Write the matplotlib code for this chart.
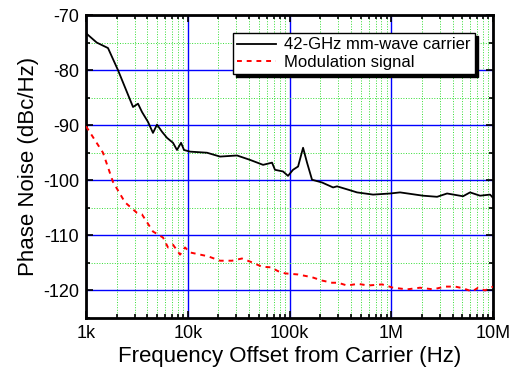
import matplotlib.pyplot as plt
import numpy as np
from matplotlib.ticker import FixedLocator, LogLocator, NullFormatter

plt.rcParams['font.family'] = ['Liberation Sans', 'DejaVu Sans']
plt.rcParams['axes.unicode_minus'] = False

# 42-GHz mm-wave carrier (log10 of offset in Hz, dBc/Hz)
carrier_logf = [3.0, 3.105, 3.216, 3.314, 3.462, 3.511, 3.550, 3.609, 3.658, 3.698,
                3.747, 3.796, 3.855, 3.894, 3.934, 3.963, 4.022, 4.189, 4.317, 4.484,
                4.612, 4.740, 4.828, 4.857, 4.936, 4.985, 5.034, 5.084, 5.133, 5.172,
                5.221, 5.319, 5.428, 5.467, 5.575, 5.663, 5.821, 5.988, 6.086, 6.312,
                6.450, 6.548, 6.705, 6.774, 6.872, 6.971, 7.0]
carrier_db = [-73.3, -75.0, -76.0, -80.0, -86.7, -86.1, -87.6, -89.4, -91.4, -89.9,
              -91.2, -92.3, -93.2, -94.5, -93.2, -94.5, -94.8, -95.0, -95.7, -95.5,
              -96.3, -97.2, -96.8, -98.1, -98.4, -99.2, -98.1, -97.5, -94.1, -96.8,
              -99.9, -100.4, -101.3, -101.1, -101.7, -102.2, -102.6, -102.4, -102.2, -102.8,
              -103.0, -102.4, -102.9, -102.2, -102.8, -102.6, -103.2]

# Modulation signal
mod_logf = [3.0, 3.167, 3.265, 3.383, 3.50, 3.55, 3.658, 3.757, 3.806, 3.855,
            3.924, 3.973, 4.022, 4.199, 4.317, 4.435, 4.533, 4.631, 4.730, 4.818,
            4.887, 4.956, 5.084, 5.221, 5.319, 5.418, 5.477, 5.565, 5.673, 5.771,
            5.909, 6.017, 6.155, 6.283, 6.410, 6.528, 6.627, 6.705, 6.794, 6.853,
            6.921, 7.0]
mod_db = [-90.2, -95.0, -100.3, -104.0, -105.9, -106.2, -109.3, -110.4, -112.2, -111.7,
          -113.5, -112.2, -113.1, -113.8, -114.6, -114.6, -114.2, -114.9, -115.7, -115.8,
          -116.5, -116.9, -117.1, -117.6, -118.2, -118.6, -118.6, -119.1, -118.8, -119.1,
          -118.9, -119.5, -119.8, -119.5, -119.8, -119.3, -119.3, -119.6, -120.2, -119.5,
          -120.0, -119.3]

xticks = [1e3, 1e4, 1e5, 1e6, 1e7]
xticklabels = ['1k', '10k', '100k', '1M', '10M']
yticks = [-70, -80, -90, -100, -110, -120]

fig = plt.figure(figsize=(5.12, 3.75), dpi=100)
ax = fig.add_axes([0.168, 0.152, 0.795, 0.808])

ax.plot(10 ** np.array(carrier_logf), carrier_db, color='black', lw=1.3,
        label='42-GHz mm-wave carrier', zorder=3)
ax.plot(10 ** np.array(mod_logf), mod_db, color='red', lw=1.4, ls=(0, (2.5, 2.5)),
        label='Modulation signal', zorder=3)

ax.set_xscale('log')
ax.set_xlim(1e3, 1e7)
ax.set_ylim(-125, -70)
ax.set_xticks(xticks)
ax.set_xticklabels(xticklabels)
ax.xaxis.set_minor_locator(LogLocator(base=10, subs=np.arange(2, 10)))
ax.xaxis.set_minor_formatter(NullFormatter())
ax.set_yticks(yticks)
ax.yaxis.set_minor_locator(FixedLocator([-75, -85, -95, -105, -115, -125]))

ax.grid(which='major', color='#0000ff', lw=1.0, ls='-')
ax.grid(which='minor', color='#33dd33', lw=0.7, ls=':')
ax.set_axisbelow(True)

ax.tick_params(which='both', direction='in', top=True, right=True, labelsize=13,
               width=1.2, pad=5)
ax.tick_params(which='major', length=5)
ax.tick_params(which='minor', length=3)
for s in ax.spines.values():
    s.set_linewidth(2)

ax.set_xlabel('Frequency Offset from Carrier (Hz)', fontsize=16, labelpad=3)
ax.set_ylabel('Phase Noise (dBc/Hz)', fontsize=16, labelpad=3)

leg = ax.legend(loc='upper right', bbox_to_anchor=(0.955, 0.94), fontsize=12,
                fancybox=False, shadow={'color': 'black', 'alpha': 1},
                framealpha=1, edgecolor='black', borderpad=0.25,
                handlelength=2.3, labelspacing=0.15, borderaxespad=0,
                handletextpad=0.5)
leg.get_frame().set_linewidth(1.0)

fig.savefig('out.png', dpi=100)
